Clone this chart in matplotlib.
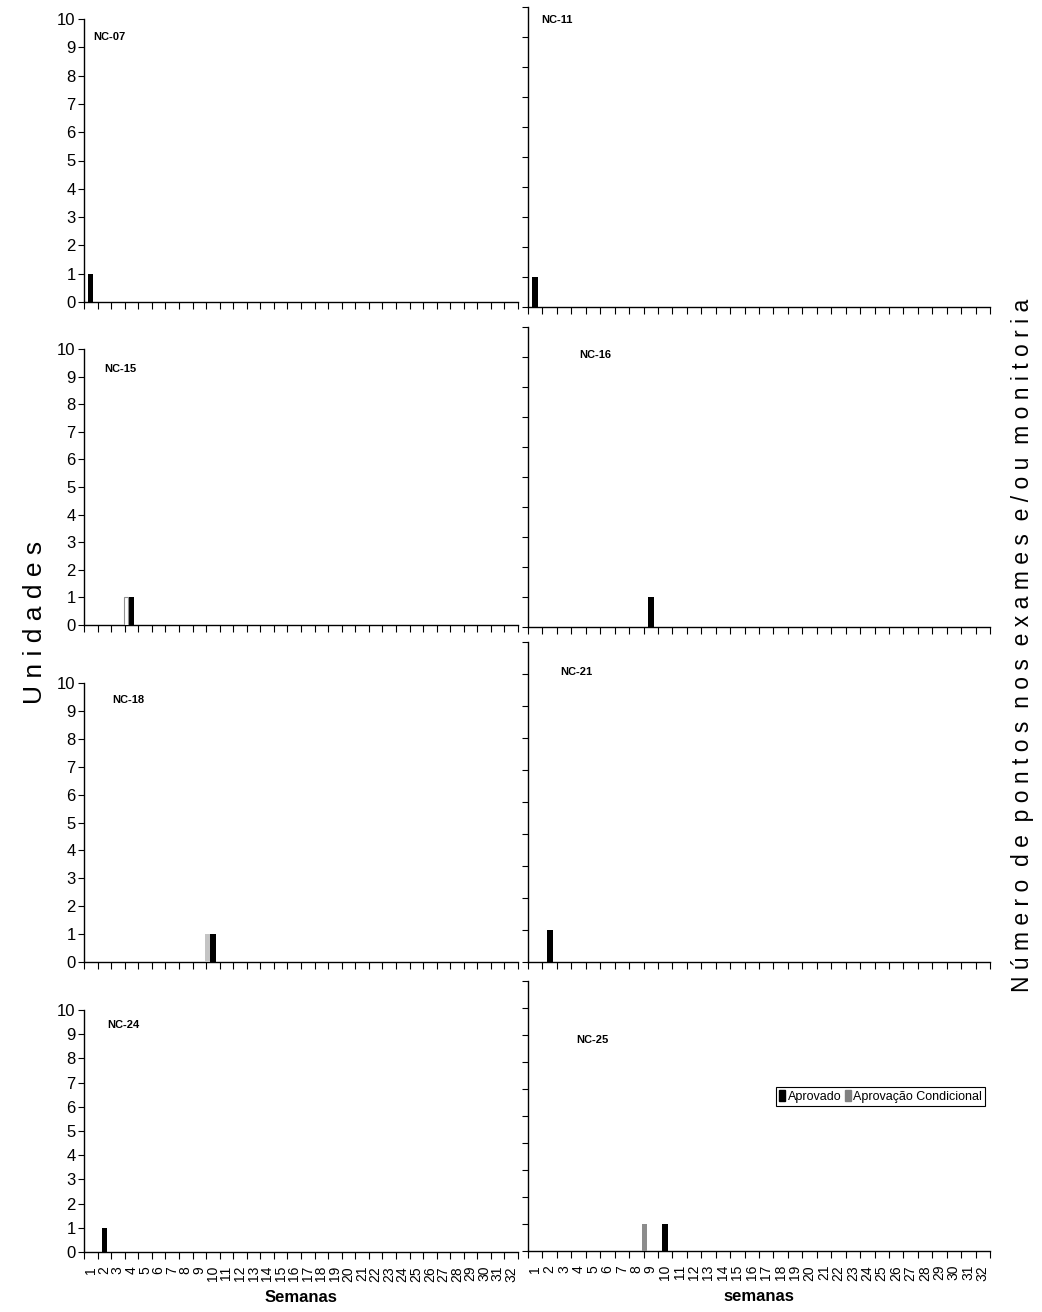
import numpy as np
import matplotlib.pyplot as plt
from matplotlib.transforms import Bbox, TransformedBbox

plt.rcParams['font.family'] = ['Liberation Sans Narrow', 'Liberation Sans', 'DejaVu Sans']

semanas = np.arange(1, 33)
paineis = ["NC-07", "NC-11", "NC-15", "NC-16", "NC-18", "NC-21", "NC-24", "NC-25"]

# (semana, unidades) por painel
aprovado = [[(1, 1)], [(1, 1)], [(4, 1)], [(9, 1)],
            [(10, 1)], [(2, 1)], [(2, 1)], [(10, 1)]]
condicional = [[], [], [(4, 1)], [],
               [(10, 1)], [], [], [(9, 1)]]

# cor da série condicional em cada painel
cor_cond = ["#808080", "#808080", "white", "#808080",
            "#c4c4c4", "#808080", "#808080", "#8c8c8c"]
borda_cond = ["none", "none", "#909090", "none",
              "none", "none", "none", "none"]

W, H = 1042, 1312
fig = plt.figure(figsize=(W / 100, H / 100), dpi=100)

# caixas dos eixos em pixels: (esq, topo, dir, base)
caixas = [(84, 19, 518, 302), (528, 7, 990, 307),
          (84, 349, 518, 625), (528, 327, 990, 627),
          (84, 683, 518, 962), (528, 642, 990, 962),
          (84, 1010, 518, 1252), (528, 981, 990, 1251)]
pos_nome = [(93, 37), (541, 20), (104, 369), (579, 355),
            (112, 700), (560, 672), (107, 1025), (576, 1040)]

larg = 0.4
for k, nome in enumerate(paineis):
    x0, t, x1, b = caixas[k]
    ax = fig.add_axes([x0 / W, 1 - b / H, (x1 - x0) / W, (b - t) / H])
    for s, v in aprovado[k]:
        ax.bar(s, v, width=larg, color="black", zorder=3)
    for s, v in condicional[k]:
        ax.bar(s - larg, v, width=larg * 0.85, color=cor_cond[k],
               edgecolor=borda_cond[k], linewidth=0.8, zorder=3)

    ax.set_xlim(0.5, 32.5)
    ax.set_ylim(0, 10)
    for lado in ["top", "right"]:
        ax.spines[lado].set_visible(False)
    for lado in ["left", "bottom"]:
        ax.spines[lado].set_linewidth(1.0)

    ax.set_yticks(range(0, 11))
    ax.tick_params(axis="y", direction="out", length=4, width=0.8, pad=2)
    if k % 2 == 0:
        ax.set_yticklabels([str(i) for i in range(0, 11)], fontsize=12)
    else:
        ax.set_yticklabels([])

    ax.set_xticks(np.arange(0.5, 33, 1.0), minor=True)
    ax.set_xticks(semanas)
    ax.tick_params(axis="x", which="minor", direction="out", length=5, width=0.8)
    ax.tick_params(axis="x", which="major", length=0, pad=10)
    if k >= 6:
        ax.set_xticklabels([str(s) for s in semanas], rotation=90,
                           fontsize=10, va="top", ha="center")
        ax.set_xlabel("Semanas" if k == 6 else "semanas",
                      fontsize=12, fontweight="bold", labelpad=6)
    else:
        ax.set_xticklabels([])

    px, py = pos_nome[k]
    fig.text(px / W, 1 - py / H, nome, fontsize=8, fontweight="bold",
             ha="left", va="center")

    if nome == "NC-25":
        h1 = plt.Rectangle((0, 0), 1, 1, color="black")
        h2 = plt.Rectangle((0, 0), 1, 1, color="#808080")
        leg = ax.legend([h1, h2], ["Aprovado", "Aprovação Condicional"],
                        ncol=2, fontsize=9, loc="upper right",
                        bbox_to_anchor=(985 / W, 1 - 1087 / H),
                        bbox_transform=fig.transFigure,
                        handlelength=0.45, handleheight=0.9, handletextpad=0.2,
                        columnspacing=0.3, borderpad=0.25, borderaxespad=0,
                        fancybox=False, framealpha=1)
        leg.get_frame().set_edgecolor("black")
        leg.get_frame().set_linewidth(0.8)

fig.text(35 / W, 1 - 622 / H, " ".join("Unidades"), rotation=90,
         fontsize=19, ha="center", va="center")

# título da direita cortado no topo, como no gráfico original
titulo = "  ".join(" ".join(p) for p in "Número de pontos nos exames e/ou monitorias".split())
rot = fig.text(1022 / W, 1 - 992 / H, titulo, rotation=90,
               fontsize=16.5, ha="center", va="bottom")
rot.set_clip_box(TransformedBbox(Bbox([[0.9, 0.0], [1.0, 1 - 296 / H]]), fig.transFigure))
rot.set_clip_on(True)

fig.savefig("out.png", dpi=100, facecolor="white")
